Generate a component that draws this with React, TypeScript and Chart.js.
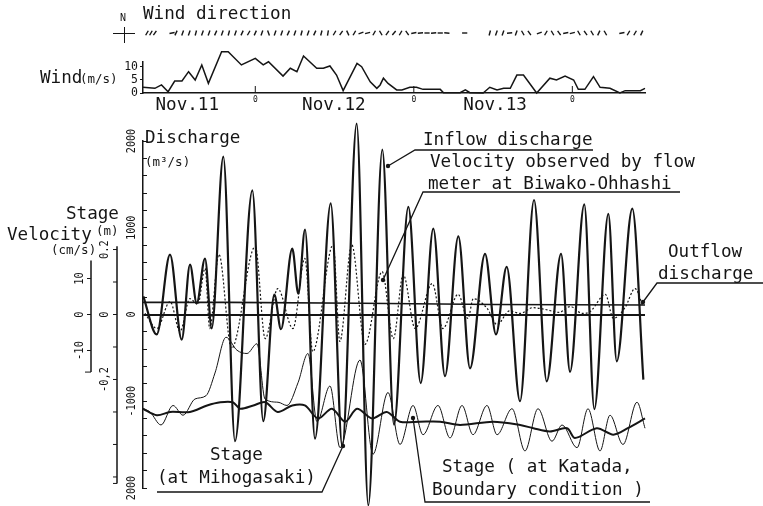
import React, { useEffect, useRef } from 'react';
import { Chart, registerables } from 'chart.js';

Chart.register(...registerables);

const FONT = '"DejaVu Sans Mono", "Liberation Mono", monospace';
const INK = '#151515';
const W = 763;
const H = 506;
const AXIS_GAP = 26;

// ---- time axis: hours from Nov.11 00:00 ----
const timeMin = 7;
const timeMax = 83;
const dateTickHours = [13.7, 24, 35.9, 48, 60.3, 72];
const dateTickLabels = ['Nov.11', '0', 'Nov.12', '0', 'Nov.13', '0'];

// ---- wind speed (m/s) ----
const windHours = [7.0, 8.8, 9.8, 10.8, 11.8, 12.9, 13.9, 14.9, 15.9, 16.9, 18.9, 19.9, 21.9, 24.0, 25.2, 26.0, 28.2, 29.3, 30.3, 31.3, 33.3, 34.3, 35.3, 36.3, 37.3, 39.4, 40.1, 41.4, 42.4, 42.9, 43.4, 44.1, 45.4, 46.2, 47.4, 48.4, 49.4, 52.0, 52.5, 55.0, 55.8, 56.5, 58.5, 59.5, 60.6, 61.6, 62.6, 63.6, 64.6, 66.6, 68.6, 69.6, 70.9, 72.2, 72.9, 73.9, 75.2, 76.2, 77.7, 79.2, 80.0, 82.3, 83.0];
const windSpeed = [2.2, 1.8, 3.1, 0.5, 4.6, 4.6, 8.2, 5.0, 10.8, 3.7, 15.9, 15.9, 10.8, 13.3, 10.8, 12.0, 6.5, 9.5, 8.2, 14.2, 9.5, 9.5, 10.4, 6.9, 0.9, 11.4, 10.1, 4.3, 1.8, 3.1, 5.7, 3.7, 1.2, 1.2, 2.2, 2.2, 1.4, 1.4, 0.1, 0.1, 1.2, 0.1, 0.0, 2.2, 1.2, 1.8, 1.8, 6.9, 6.9, 0.0, 5.7, 5.0, 6.5, 5.0, 1.4, 1.4, 6.3, 2.2, 1.8, 0.0, 0.9, 0.9, 1.8];
const windTicks = [0, 5, 10];

// ---- wind direction (mark angle, degrees) ----
const dirHours = [7.6, 8.2, 8.8, 11.4, 12, 13, 14, 15, 16, 17, 18, 19, 20, 21, 22, 23, 24, 25, 26, 27, 28, 29, 30, 31, 32, 33, 34, 35, 36, 37, 38, 39, 40, 41, 42, 43, 44, 45, 46, 47, 48, 49, 50, 51, 52, 53, 55.7, 59.5, 60.5, 61.5, 62.5, 63.5, 64.5, 65.5, 67, 68, 69, 70, 71, 72, 73, 74, 75, 76, 77, 79.5, 80.5, 81.5, 82.5];
const dirAngles = [-60, -60, -55, -10, -65, -70, -70, -75, -70, -70, -65, -70, -75, -70, -65, -60, -65, -70, 70, -70, -70, -65, -70, -75, -70, -65, -75, -80, -60, -55, 65, -60, -20, -15, -60, 60, -55, -50, -60, 55, -10, -5, 0, -5, 0, 5, 0, -75, -70, -70, -5, -70, 60, 55, -20, -60, 60, 55, -10, -15, 60, 55, 60, -65, 60, -10, -60, -60, -65];

// ---- inflow discharge (m3/s) ----
const inflowHours = [7.05, 9.07, 11.09, 12.86, 14.12, 15.13, 16.39, 17.4, 19.16, 20.93, 23.55, 25.21, 26.88, 27.89, 29.6, 30.51, 31.53, 33.04, 35.42, 37.17, 39.35, 41.11, 43.23, 45.0, 47.17, 49.04, 50.95, 52.72, 54.74, 56.51, 58.78, 60.44, 62.06, 64.08, 66.2, 68.12, 70.29, 71.65, 73.81, 75.33, 77.45, 78.72, 81.08, 82.75];
const inflowQ = [210, -230, 690, -290, 575, 130, 645, -160, 1820, -1460, 1430, -1230, 230, -170, 760, 240, 980, -1430, 1280, -1520, 2200, -2200, 1900, -1270, 1240, -790, 990, -710, 900, -620, 700, -230, 550, -1000, 1320, -770, 700, -660, 1270, -1090, 1160, -540, 1220, -750];

// ---- velocity observed at Biwako-Ohhashi (cm/s) ----
const velHours = [7.3, 9.1, 11.1, 12.6, 14.1, 15.3, 16.4, 17.1, 18.5, 20.4, 24.0, 25.5, 27.4, 29.7, 31.5, 32.7, 35.8, 36.8, 38.6, 40.6, 43.2, 44.9, 46.4, 48.2, 50.8, 52.4, 54.7, 56.2, 57.0, 59.1, 60.6, 62.5, 64.1, 66.0, 67.9, 70.0, 71.7, 73.5, 74.7, 77.0, 78.2, 80.0, 81.5, 82.7];
const velocity = [0.3, -3.9, 3.6, -4.7, 4.4, 2.8, 12.8, -3.9, 16.7, -9.4, 18.9, -6.7, 7.2, -3.9, 15.6, -10.3, 19.4, -7.5, 19.4, -8.3, 11.9, -6.7, 11.1, -3.9, 8.6, -3.9, 5.6, -1.1, 4.4, 1.7, -2.8, 1.0, 0.3, 1.9, 1.4, 0.6, 2.2, 0.3, 0.8, 5.6, -1.1, 2.0, 7.2, 2.2];

// ---- outflow discharge (m3/s) ----
const outflowHours = [7, 20, 40, 60, 83];
const outflowQ = [140, 140, 130, 115, 110];

// ---- stage (m) ----
const mihoHours = [7.0, 9.1, 11.1, 14.1, 16.7, 18.7, 20.6, 21.7, 23.7, 25.5, 27.4, 29.6, 31.5, 33.5, 35.6, 37.6, 39.4, 41.7, 43.9, 45.9, 48.9, 52.0, 55.0, 60.0, 64.1, 66.1, 68.6, 71.2, 72.4, 75.7, 78.2, 80.4, 83.0];
const mihoStage = [-0.29, -0.31, -0.30, -0.30, -0.28, -0.27, -0.27, -0.29, -0.28, -0.27, -0.30, -0.28, -0.28, -0.32, -0.29, -0.33, -0.29, -0.32, -0.30, -0.33, -0.33, -0.33, -0.34, -0.33, -0.34, -0.35, -0.36, -0.35, -0.38, -0.35, -0.37, -0.35, -0.32];
const katadaHours = [7.0, 8.06, 9.73, 11.54, 13.06, 14.87, 16.54, 17.9, 19.57, 21.23, 22.75, 24.26, 25.47, 27.44, 28.8, 30.47, 31.98, 33.34, 35.31, 36.83, 39.85, 41.82, 44.09, 45.91, 47.88, 49.39, 51.66, 53.48, 55.3, 56.96, 59.08, 60.6, 62.87, 64.83, 66.8, 68.92, 70.44, 72.71, 74.37, 76.19, 77.7, 79.67, 81.79, 83.0];
const katadaStage = [-0.29, -0.30, -0.34, -0.28, -0.31, -0.26, -0.25, -0.18, -0.07, -0.11, -0.12, -0.09, -0.26, -0.27, -0.28, -0.21, -0.12, -0.33, -0.22, -0.41, -0.14, -0.43, -0.24, -0.40, -0.28, -0.37, -0.28, -0.38, -0.28, -0.37, -0.28, -0.37, -0.29, -0.42, -0.29, -0.39, -0.34, -0.41, -0.29, -0.42, -0.31, -0.40, -0.27, -0.35];

// ---- axes ----
const dischargeRange = [-2000, 2000];
const dischargeTicks = [2000, 1000, 0, -1000, -2000];
const dischargeTickLabels = ['2000', '1000', '0', '-1000', '2000'];
const dischargeMinorTicks = [2000, 1800, 1600, 1400, 1200, 1000, 800, 600, 400, 200, 0, -200, -400, -600, -800, -1000, -1200, -1400, -1600, -1800, -2000];
const stageRange = [-0.534, 0.534];
const stageTicks = [0.2, 0, -0.2];
const stageTickLabels = ['0.2', '0', '-0,2'];
const stageMinorTicks = [0.2, 0.1, 0, -0.1, -0.2, -0.3, -0.4, -0.5];
const stageAxisSpan = [-0.52, 0.21];
const velocityRange = [-48.2, 48.2];
const velocityTicks = [10, 0, -10];
const velocityTickLabels = ['10', '0', '-10'];
const velocityAxisSpan = [-16, 15];

const pts = (xs: number[], ys: number[]) => xs.map((x, i) => ({ x, y: ys[i] }));

const baseOptions = (padding: any) => ({
  animation: false,
  responsive: false,
  maintainAspectRatio: false,
  devicePixelRatio: 1,
  events: [],
  layout: { padding },
  plugins: { legend: { display: false }, tooltip: { enabled: false } },
});

function rotatedText(ctx: any, txt: string, x: number, y: number, squeeze: number) {
  ctx.save();
  ctx.translate(x, y);
  ctx.rotate(-Math.PI / 2);
  ctx.scale(squeeze, 1);
  ctx.textAlign = 'center';
  ctx.textBaseline = 'middle';
  ctx.fillText(txt, 0, 0);
  ctx.restore();
}

function seg(ctx: any, x1: number, y1: number, x2: number, y2: number) {
  ctx.beginPath();
  ctx.moveTo(x1, y1);
  ctx.lineTo(x2, y2);
  ctx.stroke();
}

const customAxesPlugin = {
  id: 'customAxes',
  afterDraw(chart: any) {
    const { ctx } = chart;
    const q = chart.scales.yQ;
    const s = chart.scales.yS;
    const v = chart.scales.yV;
    const qx = q.right;
    const sx = q.left;
    const vx = q.left - AXIS_GAP;
    ctx.save();
    ctx.fillStyle = INK;
    ctx.strokeStyle = INK;
    ctx.font = `13px ${FONT}`;
    dischargeTicks.forEach((val, i) => rotatedText(ctx, dischargeTickLabels[i], qx - 11, q.getPixelForValue(val), 0.78));
    // stage axis
    ctx.lineWidth = 1.5;
    seg(ctx, sx, s.getPixelForValue(stageAxisSpan[1]), sx, s.getPixelForValue(stageAxisSpan[0]));
    ctx.lineWidth = 1;
    stageMinorTicks.forEach((val) => seg(ctx, sx - 4, s.getPixelForValue(val), sx, s.getPixelForValue(val)));
    seg(ctx, sx - 4, s.getPixelForValue(stageAxisSpan[0]), sx, s.getPixelForValue(stageAxisSpan[0]));
    stageTicks.forEach((val, i) => rotatedText(ctx, stageTickLabels[i], sx - 12, s.getPixelForValue(val), 0.8));
    // velocity axis
    ctx.lineWidth = 1.5;
    seg(ctx, vx, v.getPixelForValue(velocityAxisSpan[1]), vx, v.getPixelForValue(velocityAxisSpan[0]));
    ctx.lineWidth = 1;
    seg(ctx, vx - 6, v.getPixelForValue(velocityAxisSpan[0]), vx, v.getPixelForValue(velocityAxisSpan[0]));
    velocityTicks.forEach((val, i) => {
      seg(ctx, vx - 4, v.getPixelForValue(val), vx, v.getPixelForValue(val));
      rotatedText(ctx, velocityTickLabels[i], vx - 11, v.getPixelForValue(val), 0.8);
    });
    ctx.restore();
  },
};

// annotation leader lines (decoration, page pixels)
const leaderLines = [
  [[593, 150], [415, 150], [388, 166]],
  [[680, 192], [423, 192], [383, 280]],
  [[763, 283], [657, 283], [643, 302]],
  [[157, 492], [322, 492], [343, 446]],
  [[650, 502], [425, 502], [413, 418]],
];

const leadersPlugin = {
  id: 'leaders',
  afterDraw(chart: any) {
    const { ctx } = chart;
    ctx.save();
    ctx.strokeStyle = INK;
    ctx.fillStyle = INK;
    ctx.lineWidth = 1.3;
    leaderLines.forEach((line) => {
      ctx.beginPath();
      line.forEach(([x, y], i) => (i === 0 ? ctx.moveTo(x, y) : ctx.lineTo(x, y)));
      ctx.stroke();
      const [tx, ty] = line[line.length - 1];
      ctx.beginPath();
      ctx.arc(tx, ty, 2.2, 0, Math.PI * 2);
      ctx.fill();
    });
    ctx.restore();
  },
};

const midnightTicksPlugin = {
  id: 'midnightTicks',
  afterDraw(chart: any) {
    const { ctx, chartArea } = chart;
    const xs = chart.scales.x;
    ctx.save();
    ctx.strokeStyle = INK;
    ctx.lineWidth = 1;
    dateTickHours.forEach((h, i) => {
      if (dateTickLabels[i] !== '0') return;
      const px = xs.getPixelForValue(h);
      seg(ctx, px, chartArea.bottom, px, chartArea.bottom - 7);
    });
    ctx.restore();
  },
};

const texts = [
  { t: 'Wind direction', x: 143, y: 5, s: 17.6 },
  { t: 'N', x: 120, y: 13, s: 10 },
  { t: 'Wind', x: 40, y: 69, s: 17.6 },
  { t: '(m/s)', x: 80, y: 73, s: 12.5 },
  { t: 'Discharge', x: 145, y: 129, s: 17.6 },
  { t: '(m³/s)', x: 145, y: 156, s: 12.5 },
  { t: 'Stage', x: 66, y: 205, s: 17.6 },
  { t: 'Velocity', x: 7, y: 226, s: 17.6 },
  { t: '(m)', x: 96, y: 225, s: 12.5 },
  { t: '(cm/s)', x: 51, y: 244, s: 12.5 },
  { t: 'Inflow discharge', x: 423, y: 131, s: 17.6 },
  { t: 'Velocity observed by flow', x: 430, y: 153, s: 17.6 },
  { t: 'meter at Biwako-Ohhashi', x: 428, y: 175, s: 17.6 },
  { t: 'Outflow', x: 668, y: 243, s: 17.6 },
  { t: 'discharge', x: 658, y: 265, s: 17.6 },
  { t: 'Stage', x: 210, y: 446, s: 17.6 },
  { t: '(at Mihogasaki)', x: 157, y: 469, s: 17.6 },
  { t: 'Stage ( at Katada,', x: 442, y: 458, s: 17.6 },
  { t: 'Boundary condition )', x: 432, y: 481, s: 17.6 },
];

export default function App() {
  const mainRef = useRef<HTMLCanvasElement | null>(null);
  const windRef = useRef<HTMLCanvasElement | null>(null);
  const dirRef = useRef<HTMLCanvasElement | null>(null);

  useEffect(() => {
    const lineDefaults = { pointRadius: 0, borderColor: INK, fill: false, clip: false };

    const main = new Chart(mainRef.current as any, {
      type: 'line',
      data: {
        datasets: [
          { ...lineDefaults, label: 'Inflow discharge', data: pts(inflowHours, inflowQ), yAxisID: 'yQ', borderWidth: 2.2, cubicInterpolationMode: 'monotone' },
          { ...lineDefaults, label: 'Velocity observed by flow meter at Biwako-Ohhashi', data: pts(velHours, velocity), yAxisID: 'yV', borderWidth: 1.2, borderDash: [2, 2], cubicInterpolationMode: 'monotone' },
          { ...lineDefaults, label: 'Outflow discharge', data: pts(outflowHours, outflowQ), yAxisID: 'yQ', borderWidth: 1.6 },
          { ...lineDefaults, label: 'Stage (at Mihogasaki)', data: pts(mihoHours, mihoStage), yAxisID: 'yS', borderWidth: 2, tension: 0.3 },
          { ...lineDefaults, label: 'Stage (at Katada)', data: pts(katadaHours, katadaStage), yAxisID: 'yS', borderWidth: 1, cubicInterpolationMode: 'monotone' },
        ],
      } as any,
      options: {
        ...baseOptions({ left: 143 - AXIS_GAP, right: W - 645, top: 141, bottom: H - 488 }),
        scales: {
          x: { type: 'linear', display: false, min: timeMin, max: timeMax },
          yQ: {
            type: 'linear',
            position: 'left',
            min: dischargeRange[0],
            max: dischargeRange[1],
            afterBuildTicks: (sc: any) => { sc.ticks = dischargeMinorTicks.map((value) => ({ value })); },
            afterFit: (sc: any) => { sc.width = AXIS_GAP; },
            ticks: { display: false },
            grid: {
              drawOnChartArea: true,
              drawTicks: true,
              tickLength: -4,
              tickColor: INK,
              tickWidth: 1,
              color: (c: any) => (c.tick && c.tick.value === 0 ? INK : 'rgba(0,0,0,0)'),
              lineWidth: (c: any) => (c.tick && c.tick.value === 0 ? 2 : 1),
            },
            border: { display: true, color: INK, width: 1.5 },
          },
          yS: { type: 'linear', position: 'left', display: false, min: stageRange[0], max: stageRange[1] },
          yV: { type: 'linear', position: 'left', display: false, min: velocityRange[0], max: velocityRange[1] },
        },
      } as any,
      plugins: [customAxesPlugin, leadersPlugin],
    });

    const wind = new Chart(windRef.current as any, {
      type: 'line',
      data: {
        datasets: [
          { ...lineDefaults, label: 'Wind (m/s)', data: pts(windHours, windSpeed), borderWidth: 1.5, tension: 0 },
        ],
      } as any,
      options: {
        ...baseOptions({ left: 143 - AXIS_GAP, right: W - 645, top: 62, bottom: H - 93 - 27 }),
        scales: {
          x: {
            type: 'linear',
            min: timeMin,
            max: timeMax,
            position: 'bottom',
            afterBuildTicks: (sc: any) => { sc.ticks = dateTickHours.map((value) => ({ value })); },
            afterFit: (sc: any) => { sc.height = 27; },
            ticks: {
              autoSkip: false,
              maxRotation: 0,
              minRotation: 0,
              padding: 2,
              color: INK,
              callback: (val: any) => dateTickLabels[dateTickHours.indexOf(val)] ?? '',
              font: (c: any) => {
                const lab = c.tick ? dateTickLabels[dateTickHours.indexOf(c.tick.value)] : '';
                return { family: FONT, size: lab === '0' ? 8 : 17.6 };
              },
            },
            grid: { drawOnChartArea: false, drawTicks: false },
            border: { display: true, color: INK, width: 1.5 },
          },
          y: {
            type: 'linear',
            position: 'left',
            min: 0,
            max: 11.92,
            afterBuildTicks: (sc: any) => { sc.ticks = windTicks.map((value) => ({ value })); },
            afterFit: (sc: any) => { sc.width = AXIS_GAP; },
            ticks: { autoSkip: false, color: INK, padding: 2, font: { family: FONT, size: 11.5 } },
            grid: { drawOnChartArea: false, drawTicks: true, tickLength: 3, tickColor: INK },
            border: { display: true, color: INK, width: 1.5 },
          },
        },
      } as any,
      plugins: [midnightTicksPlugin],
    });

    const dir = new Chart(dirRef.current as any, {
      type: 'scatter',
      data: {
        datasets: [
          {
            label: 'Wind direction',
            data: dirHours.map((x) => ({ x, y: 0 })),
            pointStyle: 'line',
            pointRadius: 2.6,
            pointBorderWidth: 1.4,
            pointBorderColor: INK,
            pointBackgroundColor: INK,
            rotation: (c: any) => dirAngles[c.dataIndex],
            clip: false,
          },
        ],
      } as any,
      options: {
        ...baseOptions({ left: 143, right: W - 645, top: 24, bottom: H - 42 }),
        scales: {
          x: { type: 'linear', display: false, min: timeMin, max: timeMax },
          y: { type: 'linear', display: false, min: -1, max: 1 },
        },
      } as any,
    });

    return () => {
      main.destroy();
      wind.destroy();
      dir.destroy();
    };
  }, []);

  const canvasStyle: React.CSSProperties = { position: 'absolute', left: 0, top: 0, width: W, height: H };

  return (
    <div style={{ position: 'absolute', left: 0, top: 0, width: W, height: H, background: '#fff', overflow: 'hidden', fontFamily: FONT, color: INK }}>
      <canvas ref={mainRef} width={W} height={H} style={canvasStyle} />
      <canvas ref={windRef} width={W} height={H} style={canvasStyle} />
      <canvas ref={dirRef} width={W} height={H} style={canvasStyle} />
      {texts.map((t, i) => (
        <div key={i} style={{ position: 'absolute', left: t.x, top: t.y, fontSize: t.s, lineHeight: 1, whiteSpace: 'nowrap', fontFamily: FONT }}>
          {t.t}
        </div>
      ))}
      <div style={{ position: 'absolute', left: 113, top: 33, width: 22, height: 0, borderTop: `1.5px solid ${INK}` }} />
      <div style={{ position: 'absolute', left: 124, top: 27, width: 0, height: 16, borderLeft: `1.5px solid ${INK}` }} />
    </div>
  );
}
